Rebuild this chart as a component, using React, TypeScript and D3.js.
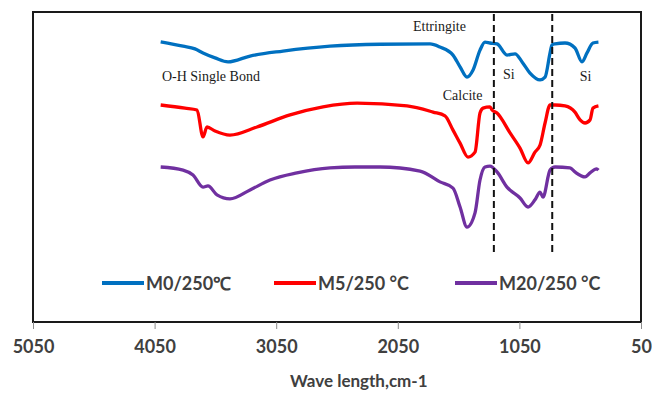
import React, { useEffect, useRef } from "react";
import * as d3 from "d3";

const width = 652,
  height = 395;
const margin = { top: 12, right: 11, bottom: 73, left: 33 };

// x axis (reversed, cm-1)
const xTicks = [5050, 4050, 3050, 2050, 1050, 50];
const dashedAt = [1260, 780];

// M0/250°C
const m0Wn = [4000, 3816, 3718, 3652, 3553, 3446, 3265, 2994, 2607, 2196, 1785, 1703, 1596, 1538, 1481, 1431, 1374, 1333, 1292, 1234, 1152, 1086, 1028, 963, 880, 839, 798, 782, 757, 675, 593, 535, 494, 445, 400];
const m0T = [90.4, 89.0, 88.1, 86.8, 85.2, 83.9, 85.8, 87.4, 89.0, 89.6, 89.7, 88.7, 86.1, 82.3, 79.0, 81.3, 87.7, 90.3, 90.0, 89.7, 86.1, 86.5, 83.9, 80.3, 78.1, 79.0, 86.8, 89.4, 89.7, 90.0, 88.4, 83.9, 86.8, 90.0, 90.3];

// M5/250°C
const m5Wn = [4000, 3800, 3701, 3652, 3619, 3553, 3430, 3208, 2936, 2665, 2385, 1974, 1760, 1662, 1596, 1538, 1473, 1415, 1374, 1349, 1292, 1275, 1234, 1127, 1045, 979, 922, 880, 839, 798, 757, 675, 593, 551, 510, 469, 445, 400];
const m5T = [70.0, 69.0, 68.4, 59.7, 62.9, 61.6, 60.3, 62.9, 66.8, 69.4, 70.6, 69.7, 67.7, 66.5, 61.9, 57.7, 53.2, 54.8, 67.4, 69.0, 69.4, 68.4, 67.4, 61.0, 56.1, 51.3, 54.8, 57.1, 64.2, 70.0, 70.0, 69.7, 67.7, 65.2, 64.2, 65.2, 69.0, 69.7];

// M20/250°C
const m20Wn = [4000, 3816, 3734, 3652, 3611, 3537, 3430, 3265, 3101, 2879, 2607, 2402, 2196, 1867, 1703, 1596, 1538, 1481, 1415, 1374, 1333, 1292, 1234, 1152, 1045, 979, 922, 880, 856, 798, 757, 634, 593, 510, 469, 415, 400];
const m20T = [50.0, 49.0, 47.4, 43.5, 43.9, 41.0, 39.7, 42.6, 45.8, 48.1, 49.7, 50.0, 50.0, 48.7, 45.2, 43.2, 37.1, 30.6, 35.2, 45.8, 50.0, 50.3, 48.4, 43.5, 40.0, 37.1, 39.4, 41.9, 40.3, 49.0, 50.0, 49.7, 48.4, 46.8, 48.1, 49.4, 49.0];

const seriesNames = ["M0/250℃", "M5/250 °C", "M20/250 °C"];
const seriesColors = ["#0070C0", "#FF0000", "#7030A0"];
const seriesWn = [m0Wn, m5Wn, m20Wn];
const seriesT = [m0T, m5T, m20T];

// peak labels: text, wavenumber, transmittance
const labelText = ["Ettringite", "O-H Single Bond", "Calcite", "Si", "Si"];
const labelWn = [1925, 3990, 1680, 1185, 553];
const labelT = [93.9, 77.7, 71.6, 78.4, 77.7];

const legendX = [102, 274, 455];

export default function App() {
  const xAxisRef = useRef(null);

  const xScale = d3
    .scaleLinear()
    .domain([5050, 50])
    .range([margin.left, width - margin.right]);
  const yScale = d3
    .scaleLinear()
    .domain([0, 100])
    .range([height - margin.bottom, margin.top]);

  const line = d3
    .line()
    .x((d) => xScale(d[0]))
    .y((d) => yScale(d[1]))
    .curve(d3.curveMonotoneX);

  useEffect(() => {
    const g = d3.select(xAxisRef.current);
    g.call(
      d3
        .axisBottom(xScale)
        .tickValues(xTicks)
        .tickSize(7)
        .tickPadding(11)
        .tickFormat(d3.format("d")),
    );
    g.select(".domain").remove();
    g.selectAll(".tick line").attr("stroke", "#8c8c8c");
    g.selectAll(".tick text")
      .attr("fill", "#404040")
      .style("font-family", "Lato, sans-serif")
      .style("font-weight", "700")
      .style("font-size", "18px");
  }, []);

  const plotBottom = height - margin.bottom;

  return (
    <svg
      width={width}
      height={height}
      style={{ position: "absolute", left: 0, top: 0, background: "#fff" }}
    >
      {seriesWn.map((wn, i) => (
        <path
          key={seriesNames[i]}
          d={line(wn.map((w, j) => [w, seriesT[i][j]]))}
          fill="none"
          stroke={seriesColors[i]}
          strokeWidth={3.3}
          strokeLinejoin="round"
        />
      ))}

      {dashedAt.map((w) => (
        <line
          key={w}
          x1={xScale(w)}
          x2={xScale(w)}
          y1={14}
          y2={254}
          stroke="#111"
          strokeWidth={2}
          strokeDasharray="7,4"
        />
      ))}

      {labelText.map((t, i) => (
        <text
          key={i}
          x={xScale(labelWn[i])}
          y={yScale(labelT[i])}
          fontFamily="'Liberation Serif', serif"
          fontSize={14}
          fill="#1a1a1a"
        >
          {t}
        </text>
      ))}

      {seriesNames.map((name, i) => (
        <g key={name} transform={`translate(${legendX[i]},283)`}>
          <line x1={0} x2={42} y1={0} y2={0} stroke={seriesColors[i]} strokeWidth={4} />
          <text
            x={44}
            y={6.5}
            fontFamily="Lato, sans-serif"
            fontWeight={700}
            fontSize={18}
            fill="#404040"
          >
            {name}
          </text>
        </g>
      ))}

      <rect
        x={margin.left}
        y={margin.top}
        width={width - margin.left - margin.right}
        height={plotBottom - margin.top}
        fill="none"
        stroke="#1a1a1a"
        strokeWidth={2}
      />
      <g ref={xAxisRef} transform={`translate(0,${plotBottom})`} />

      <text
        x={290}
        y={387}
        fontFamily="Lato, sans-serif"
        fontWeight={700}
        fontSize={17}
        fill="#404040"
      >
        Wave length,cm-1
      </text>
    </svg>
  );
}
